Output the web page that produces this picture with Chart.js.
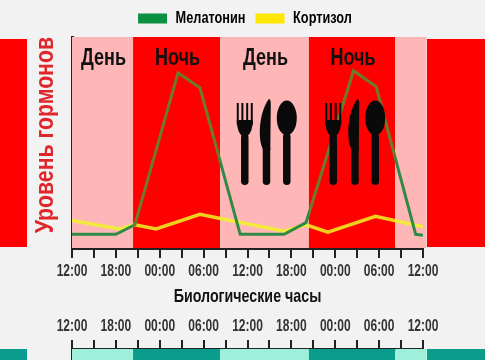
<!DOCTYPE html>
<html>
<head>
<meta charset="utf-8">
<script src="https://cdn.jsdelivr.net/npm/chart.js@4"></script>
<style>
  html, body { margin: 0; padding: 0; background: #f2f2f2; }
  #wrap { position: relative; width: 485px; height: 360px; overflow: hidden; }
  canvas { position: absolute; left: 0; }
  .side { position: absolute; }
</style>
</head>
<body>
<div id="wrap">
  <div class="side" style="left:0;top:39px;width:27px;height:208px;background:#ff0000"></div>
  <div class="side" style="left:427px;top:39px;width:58px;height:208px;background:#ff0000"></div>
  <div class="side" style="left:0;top:349px;width:27px;height:11px;background:#0a9c8c"></div>
  <div class="side" style="left:427px;top:349px;width:58px;height:11px;background:#0a9c8c"></div>
  <canvas id="mainChart" width="485" height="312" style="top:0"></canvas>
  <canvas id="lowerChart" width="485" height="50" style="top:310px"></canvas>
</div>
<script>
const FONT = '"Liberation Sans", sans-serif';

// hours since the first 12:00
const melatoninX = [0, 6, 8.6, 14.5, 17.5, 23, 29, 32, 38.5, 41.6, 47, 48];
const melatoninY = [6.5, 6.5, 11, 83, 76, 6.5, 6.5, 12, 84, 76.5, 6.5, 6];
const cortisolX = [0, 6.5, 8.6, 11.5, 17.5, 20.3, 29, 32, 35, 41.5, 48];
const cortisolY = [13, 9, 11, 9, 16, 14, 8, 11, 7.5, 15, 10];

const tickHours = [0, 3, 6, 9, 12, 15, 18, 21, 24, 27, 30, 33, 36, 39, 42, 45, 48];
const tickLabels = ['12:00', '', '18:00', '', '00:00', '', '06:00', '', '12:00', '', '18:00', '', '00:00', '', '06:00', '', '12:00'];

const bandEdges = [0, 8.35, 20.25, 32.4, 44.2, 48.5];
const bandNames = ['День', 'Ночь', 'День', 'Ночь', ''];
const mealHours = [26.5, 38.6];

const Y_TITLE = 'Уровень гормонов';
const PINK = '#ffb6b6', RED = '#ff0000', MINT = '#9ff0da', TEAL = '#0a9c8c';

function isNight(i) { return i % 2 === 1; }

// no condensed font is installed, so squeeze text horizontally on this context
function condense(canvas) {
  const ctx = canvas.getContext('2d');
  const fill = ctx.fillText.bind(ctx);
  const measure = ctx.measureText.bind(ctx);
  const factor = t => (t === Y_TITLE ? 0.85 : 0.75);
  ctx.fillText = (t, x, y) => {
    ctx.save();
    ctx.translate(x, y);
    ctx.scale(factor(t), 1);
    fill(t, 0, 0);
    ctx.restore();
  };
  ctx.measureText = t => ({ width: measure(t).width * factor(t) });
}
condense(document.getElementById('mainChart'));
condense(document.getElementById('lowerChart'));

// hard-stop gradient so a line changes tone where it crosses a night band
function bandGradient(chart, dayColor, nightColor) {
  const a = chart.chartArea;
  if (!a) return dayColor;
  const g = chart.ctx.createLinearGradient(a.left, 0, a.right, 0);
  const stop = h => Math.min(1, Math.max(0, h / 48));
  for (let i = 0; i < bandEdges.length - 1; i++) {
    const c = isNight(i) ? nightColor : dayColor;
    g.addColorStop(stop(bandEdges[i]), c);
    g.addColorStop(stop(bandEdges[i + 1]), c);
  }
  return g;
}

function cutlery(ctx, cx) {
  ctx.fillStyle = '#0a0a0a';
  const y0 = 100, yEnd = 185;
  const handle = (x, top, w) => {
    ctx.beginPath();
    ctx.roundRect(x - w / 2, y0 + top, w, yEnd - y0 - top, w / 2);
    ctx.fill();
  };
  // fork
  const fx = cx - 21;
  for (const dx of [-7, -2.4, 2.4, 7]) ctx.fillRect(fx + dx - 1, y0 + 3, 2, 22);
  ctx.beginPath();
  ctx.moveTo(fx - 8, y0 + 20);
  ctx.quadraticCurveTo(fx - 8, y0 + 31, fx - 3, y0 + 36);
  ctx.lineTo(fx + 3, y0 + 36);
  ctx.quadraticCurveTo(fx + 8, y0 + 31, fx + 8, y0 + 20);
  ctx.closePath();
  ctx.fill();
  handle(fx, 34, 7.5);
  // knife
  ctx.beginPath();
  ctx.moveTo(cx + 3, y0 - 1);
  ctx.quadraticCurveTo(cx + 5, y0 - 1, cx + 5, y0 + 4);
  ctx.lineTo(cx + 4.5, y0 + 50);
  ctx.lineTo(cx - 2.5, y0 + 50);
  ctx.bezierCurveTo(cx - 5, y0 + 45, cx - 6, y0 + 40, cx - 6, y0 + 32);
  ctx.bezierCurveTo(cx - 6, y0 + 18, cx - 2, y0 + 6, cx + 3, y0 - 1);
  ctx.closePath();
  ctx.fill();
  handle(cx + 0.7, 44, 7.5);
  // spoon
  const sx = cx + 21;
  ctx.beginPath();
  ctx.ellipse(sx, y0 + 18, 10, 17.5, 0, 0, Math.PI * 2);
  ctx.fill();
  handle(sx, 33, 7.5);
}

const bandsPlugin = {
  id: 'bands',
  afterLayout(chart) {
    // legend sits centred on the plot, not on plot plus y title
    if (chart.legend && chart.options.plugins.legend.display !== false) {
      chart.legend.left += 18;
      chart.legend.right += 18;
    }
  },
  beforeDatasetsDraw(chart, args, opts) {
    const { ctx, chartArea: a, scales: { x } } = chart;
    ctx.save();
    for (let i = 0; i < bandEdges.length - 1; i++) {
      const l = x.getPixelForValue(bandEdges[i]);
      const r = x.getPixelForValue(bandEdges[i + 1]);
      ctx.fillStyle = isNight(i) ? opts.night : opts.day;
      ctx.fillRect(l, a.top, r - l, opts.bandHeight || a.bottom - a.top);
      if (bandNames[i]) {
        ctx.fillStyle = '#111';
        ctx.font = 'bold 24px ' + FONT;
        ctx.textAlign = 'center';
        ctx.textBaseline = 'middle';
        ctx.fillText(bandNames[i], (l + r) / 2 + 1, opts.nameY);
      }
    }
    ctx.restore();
  },
  afterDatasetsDraw(chart, args, opts) {
    if (!opts.meals) return;
    const { ctx, scales: { x } } = chart;
    ctx.save();
    mealHours.forEach(h => cutlery(ctx, x.getPixelForValue(h)));
    ctx.restore();
  }
};

const xTicks = {
  color: '#333',
  font: { family: FONT, size: 16, weight: 'bold' },
  maxRotation: 0,
  autoSkip: false,
  padding: 4,
  callback: v => tickLabels[tickHours.indexOf(v)]
};
const xGrid = { display: true, drawOnChartArea: false, color: '#222', lineWidth: 2, tickLength: 10 };
function setTicks(axis) { axis.ticks = tickHours.map(v => ({ value: v })); }

new Chart(document.getElementById('mainChart'), {
  type: 'line',
  data: {
    datasets: [
      {
        label: 'Кортизол',
        data: cortisolX.map((x, i) => ({ x, y: cortisolY[i] })),
        borderColor: c => bandGradient(c.chart, '#f2ea3c', '#f0d21e'),
        backgroundColor: '#ffe600',
        borderWidth: 3.5, pointRadius: 0, tension: 0, order: 2
      },
      {
        label: 'Мелатонин',
        data: melatoninX.map((x, i) => ({ x, y: melatoninY[i] })),
        borderColor: c => bandGradient(c.chart, '#2f8a45', '#6d7a2c'),
        backgroundColor: '#0a9040',
        borderWidth: 3, pointRadius: 0, tension: 0, order: 1
      }
    ]
  },
  options: {
    responsive: false,
    animation: false,
    layout: { padding: { left: 31, right: 62, top: 0, bottom: 0 } },
    scales: {
      x: {
        type: 'linear', min: 0, max: 48,
        afterBuildTicks: setTicks,
        afterFit: s => { s.height = 312 - 248; },
        ticks: xTicks,
        grid: xGrid,
        border: { color: '#222', width: 3 },
        title: { display: true, text: 'Биологические часы', color: '#111', font: { family: FONT, size: 19, weight: 'bold' }, padding: { top: 12 } }
      },
      y: {
        min: 0, max: 100,
        afterFit: s => { s.width = 41; },
        ticks: { display: false },
        grid: { display: false },
        border: { color: '#222', width: 3 },
        title: { display: true, text: Y_TITLE, align: 'end', color: '#e0262a', font: { family: FONT, size: 25, weight: 'bold' }, padding: 0 }
      }
    },
    plugins: {
      bands: { day: PINK, night: RED, nameY: 58, meals: true },
      tooltip: { enabled: false },
      legend: {
        position: 'top',
        reverse: true,
        labels: { boxWidth: 29, boxHeight: 10, color: '#222', font: { family: FONT, size: 17, weight: 'bold' }, padding: 10,
          generateLabels: ch => ch.data.datasets.map((d, i) => ({
            text: d.label, fillStyle: d.backgroundColor, strokeStyle: d.backgroundColor,
            lineWidth: 0, datasetIndex: i
          })) }
      }
    }
  },
  plugins: [bandsPlugin]
});

new Chart(document.getElementById('lowerChart'), {
  type: 'line',
  data: { datasets: [{ data: [] }] },
  options: {
    responsive: false,
    animation: false,
    layout: { padding: { right: 62 } },
    scales: {
      x: {
        position: 'top', type: 'linear', min: 0, max: 48,
        afterBuildTicks: setTicks,
        afterFit: s => { s.height = 39; },
        ticks: xTicks,
        grid: { ...xGrid, tickLength: 9 },
        border: { color: '#222', width: 3 }
      },
      y: {
        min: 0, max: 1,
        afterFit: s => { s.width = 72; },
        ticks: { display: false },
        grid: { display: false },
        border: { color: '#222', width: 3 }
      }
    },
    plugins: {
      legend: { display: false },
      tooltip: { enabled: false },
      bands: { day: MINT, night: TEAL, nameY: 60, bandHeight: 12 }
    }
  },
  plugins: [bandsPlugin]
});
</script>
</body>
</html>
